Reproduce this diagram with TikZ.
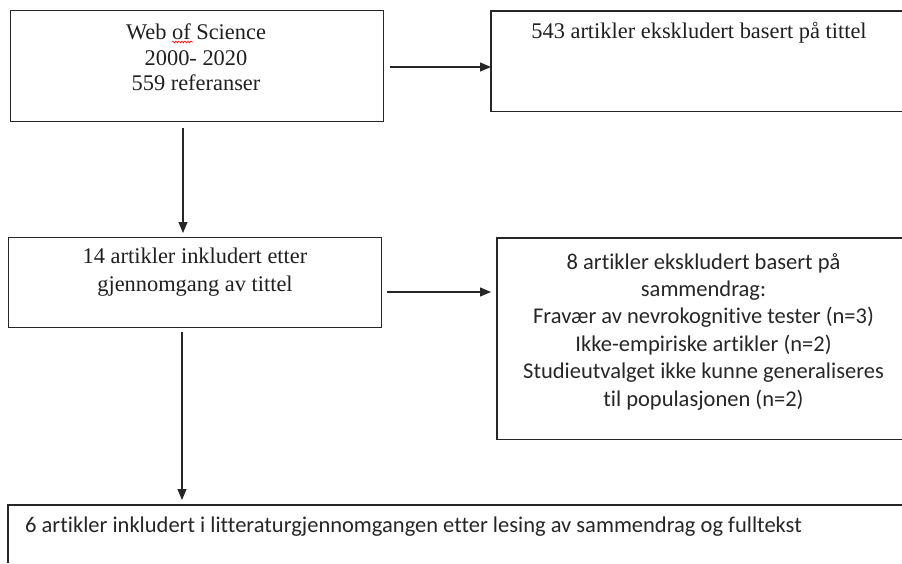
\documentclass[tikz,border=0pt]{standalone}
\usepackage{fontspec}
\setmainfont{Liberation Serif}
\newfontfamily\calfont[Ligatures=CommonOff]{Carlito}
\usetikzlibrary{arrows.meta,decorations.pathmorphing}
\begin{document}
\begin{tikzpicture}[x=1pt,y=-1pt,
  box/.style={draw=black!85, line width=1.1pt, rectangle, inner sep=0pt, anchor=north west},
  openbox/.style={box, draw=none},
  boxline/.style={draw=black!85, line width=1.1pt},
  serif/.style={font=\fontsize{22.4pt}{25.5pt}\selectfont, text=black!88, align=center, inner sep=0pt},
  calib/.style={font=\calfont\fontsize{22.5pt}{27.4pt}\selectfont, text=black!85, align=center, inner sep=0pt},
  arr/.style={draw=black!85, line width=1.1pt, -{Triangle[length=11pt,width=9pt]}}]
\useasboundingbox (0,0) rectangle (902,563);
\coordinate (br) at (902,563);
% boxes
\node[box, minimum width=373pt, minimum height=111pt] (b1) at (10,10) {};
\node[box, minimum width=373pt, minimum height=90pt] (b3) at (8,237) {};
\node[openbox, minimum width=416pt, minimum height=99pt] (b2) at (491,11) {};
\node[openbox, minimum width=413pt, minimum height=200pt] (b4) at (497,238) {};
\node[openbox, minimum width=990pt, minimum height=100pt] (b5) at (8,505) {};
\draw[boxline] (b2.north -| br) -- (b2.north west) -- (b2.south west) -- (b2.south -| br);
\draw[boxline] (b4.north -| br) -- (b4.north west) -- (b4.south west) -- (b4.south -| br);
\draw[boxline] (b5.north -| br) -- (b5.north west) -- (b5.west |- br);
% texts
\node[serif] (t1) at (196,57.5) {Web of Science\\2000- 2020\\559 referanser};
\draw[red, line width=0.6pt, decorate, decoration={snake, amplitude=0.9pt, segment length=3pt}] (172,42) -- (193,42);
\node[serif] (t2) at (699,33) {543 artikler ekskludert basert på tittel};
\node[serif, font=\fontsize{22.4pt}{28pt}\selectfont] (t3) at (195,272) {14 artikler inkludert etter\\gjennomgang av tittel};
\node[calib] (t4) at (703.5,331.5) {8 artikler ekskludert basert på\\sammendrag:\\Fravær av nevrokognitive tester (n=3)\\Ikke-empiriske artikler (n=2)\\Studieutvalget ikke kunne generaliseres\\til populasjonen (n=2)};
\node[calib, anchor=west] (t5) at (25,527) {6 artikler inkludert i litteraturgjennomgangen etter lesing av sammendrag og fulltekst};
% connectors
\draw[arr] ([shift={(6,57)}]b1.north east) coordinate (a1) -- (a1 -| b2.west);
\draw[arr] ([shift={(173,6)}]b1.south west) coordinate (a2) -- ([shift={(0,-4)}]a2 |- b3.north);
\draw[arr] ([shift={(5,55)}]b3.north east) coordinate (a3) -- ([shift={(-6,0)}]a3 -| b4.west);
\draw[arr] ([shift={(174,4)}]b3.south west) coordinate (a4) -- ([shift={(0,-5)}]a4 |- b5.north);
\end{tikzpicture}
\end{document}
